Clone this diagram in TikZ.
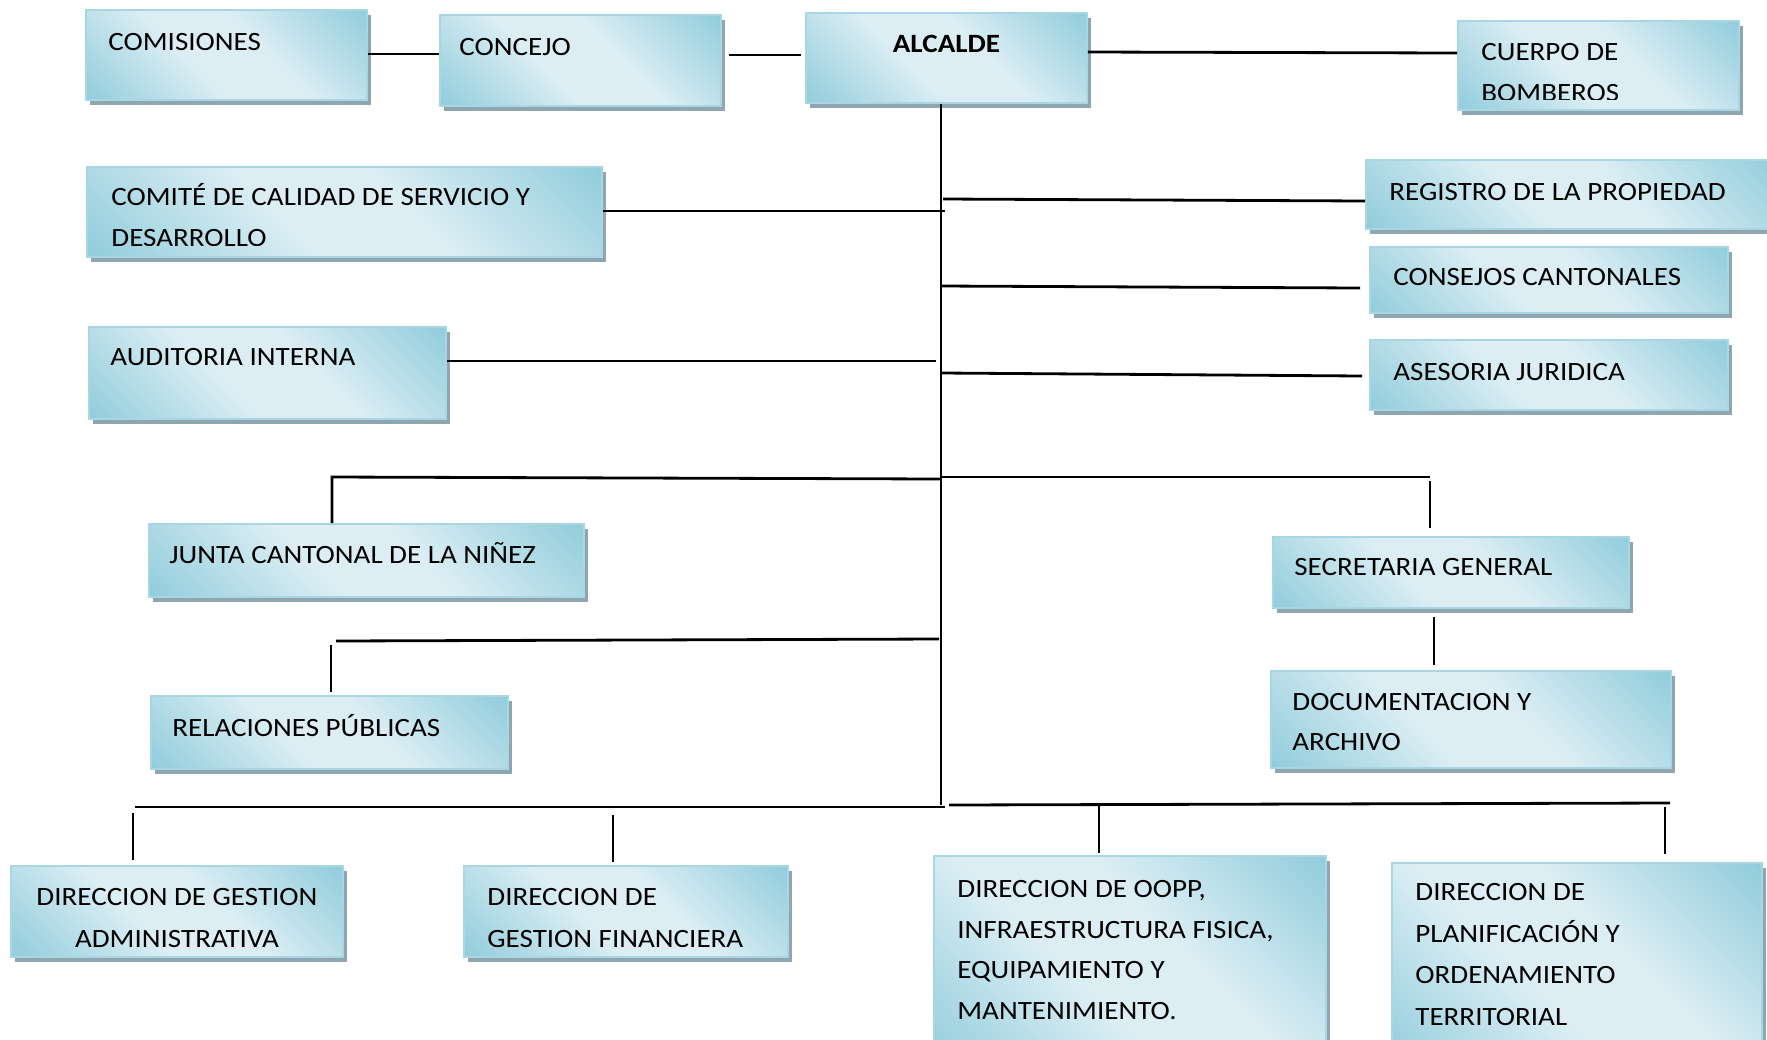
\documentclass[tikz,border=0pt]{standalone}
\usepackage{fontspec}
\setmainfont{Carlito}[FakeStretch=1.1]
\usetikzlibrary{fit,shadows}
\definecolor{bdark}{HTML}{92CDDC}
\definecolor{blight}{HTML}{DCEEF4}
\definecolor{bord}{HTML}{A8D7E3}
\definecolor{shadowc}{HTML}{8FA6B0}
\pgfdeclarehorizontalshading{boxsh}{100bp}{color(0bp)=(bdark); color(15bp)=(bdark); color(42bp)=(blight); color(58bp)=(blight); color(85bp)=(bdark); color(100bp)=(bdark)}
\newcommand\st{\rule{0pt}{12bp}}
\tikzset{
  obox/.style={inner sep=0pt, draw=bord, line width=0.8bp, shade, shading=boxsh, shading angle=45,
    drop shadow={shadow xshift=2bp, shadow yshift=-2.5bp, fill=shadowc, opacity=1}},
  txt/.style={inner sep=0pt, anchor=north west, align=left, font=\fontsize{13.2bp}{21bp}\selectfont},
  conn/.style={line width=1.4bp, black},
}
\begin{document}
\begin{tikzpicture}[x=0.5bp, y=-0.5bp]
\fill[white] (0,0) rectangle (1767,1039);
\useasboundingbox (0,0) rectangle (1767,1039);

% boxes
\node[obox, fit={(86,10)(367,100)}] (comisiones) {};
\node[obox, fit={(440,15)(721,106)}] (concejo) {};
\node[obox, fit={(806,13)(1087,103)}] (alcalde) {};
\node[obox, fit={(1458,21)(1739,110)}] (cuerpo) {};
\node[obox, fit={(87,167)(602,257)}] (comite) {};
\node[obox, fit={(1366,160)(1780,229)}] (registro) {};
\node[obox, fit={(1370,247)(1728,313)}] (consejos) {};
\node[obox, fit={(89,327)(446,419)}] (auditoria) {};
\node[obox, fit={(1370,340)(1728,410)}] (asesoria) {};
\node[obox, fit={(149,524)(584,597)}] (junta) {};
\node[obox, fit={(1273,537)(1629,608)}] (secretaria) {};
\node[obox, fit={(1271,671)(1671,768)}] (documentacion) {};
\node[obox, fit={(151,696)(508,769)}] (relaciones) {};
\node[obox, fit={(11,866)(343,957)}] (admin) {};
\node[obox, fit={(464,866)(788,957)}] (financiera) {};
\node[obox, fit={(934,856)(1326,1070)}] (oopp) {};
\node[obox, fit={(1392,863)(1762,1070)}] (planif) {};

% texts
\node[txt] (tcomisiones) at (108,26) {\st COMISIONES};
\node[txt] (tconcejo) at (459,31) {\st CONCEJO};
\node[txt, anchor=north] (talcalde) at (946.5,28) {\st\bfseries ALCALDE};
\begin{scope}
\clip (1458,21) rectangle (1739,99);
\node[txt, font=\fontsize{13.2bp}{20.3bp}\selectfont] (tcuerpo) at (1481,36) {\st CUERPO DE\\BOMBEROS};
\end{scope}
\begin{scope}
\clip (87,167) rectangle (602,245.5);
\node[txt, font=\fontsize{13.2bp}{20.3bp}\selectfont] (tcomite) at (111,181) {\st COMITÉ DE CALIDAD DE SERVICIO Y\\DESARROLLO};
\end{scope}
\node[txt] (tregistro) at (1389,176) {\st REGISTRO DE LA PROPIEDAD};
\node[txt] (tconsejos) at (1393,261) {\st CONSEJOS CANTONALES};
\node[txt] (tauditoria) at (110,341) {\st AUDITORIA INTERNA};
\node[txt] (tasesoria) at (1393,356) {\st ASESORIA JURIDICA};
\node[txt] (tjunta) at (169,539) {\st JUNTA CANTONAL DE LA NIÑEZ};
\node[txt] (tsecretaria) at (1294,551) {\st SECRETARIA GENERAL};
\node[txt, font=\fontsize{13.2bp}{20bp}\selectfont] (tdocumentacion) at (1292,686) {\st DOCUMENTACION Y\\ARCHIVO};
\node[txt] (trelaciones) at (172,712) {\st RELACIONES PÚBLICAS};
\node[txt, anchor=north, align=center] (tadmin) at (177,881) {\st DIRECCION DE GESTION\\ADMINISTRATIVA};
\node[txt] (tfinanciera) at (487,881) {\st DIRECCION DE\\GESTION FINANCIERA};
\node[txt, font=\fontsize{13.2bp}{20.3bp}\selectfont] (toopp) at (957,873) {\st DIRECCION DE OOPP,\\INFRAESTRUCTURA FISICA,\\EQUIPAMIENTO Y\\MANTENIMIENTO.};
\node[txt, font=\fontsize{13.2bp}{20.8bp}\selectfont] (tplanif) at (1415,876) {\st DIRECCION DE\\PLANIFICACIÓN Y\\ORDENAMIENTO\\TERRITORIAL};

% junction / free-end coordinates
\coordinate (ca1) at (729,55);
\coordinate (ca2) at (801,55);
\coordinate (tb) at (941,805);
\coordinate (jcomite) at (945,211);
\coordinate (jreg) at (943,199);
\coordinate (jcons1) at (941,286);
\coordinate (jcons2) at (1360,288);
\coordinate (jaud) at (936,361);
\coordinate (jases1) at (942,373);
\coordinate (jases2) at (1362,376);
\coordinate (jn1) at (332,477);
\coordinate (jn2) at (941,479);
\coordinate (sc1) at (941,477);
\coordinate (sc2) at (1430,477);
\coordinate (sc3) at (1430,481);
\coordinate (sc4) at (1430,528);
\coordinate (sd1) at (1434,617);
\coordinate (sd2) at (1434,665);
\coordinate (rl1) at (336,641);
\coordinate (rl2) at (939,639);
\coordinate (rl3) at (331,645);
\coordinate (rl4) at (331,692);
\coordinate (bl1) at (135,807);
\coordinate (bl2) at (945,807);
\coordinate (br1) at (949,805);
\coordinate (br2) at (1670,803);
\coordinate (v1a) at (133,813);
\coordinate (v1b) at (133,860);
\coordinate (v2a) at (613,815);
\coordinate (v2b) at (613,862);
\coordinate (v3a) at (1099,805);
\coordinate (v3b) at (1099,853);
\coordinate (v4a) at (1665,807);
\coordinate (v4b) at (1665,854);

% connectors
\draw[conn] (comisiones.east |- 0,54) -- (concejo.west |- 0,54);
\draw[conn] (ca1) -- (ca2);
\draw[conn] (alcalde.east |- 0,52) -- (cuerpo.west |- 0,53);
\draw[conn] (alcalde.south -| tb) -- (tb);
\draw[conn] (comite.east |- jcomite) -- (jcomite);
\draw[conn] (jreg) -- (registro.west |- 0,201);
\draw[conn] (jcons1) -- (jcons2);
\draw[conn] (auditoria.east |- jaud) -- (jaud);
\draw[conn] (jases1) -- (jases2);
\draw[conn] (junta.north -| jn1) -- (jn1) -- (jn2);
\draw[conn] (sc1) -- (sc2);
\draw[conn] (sc3) -- (sc4);
\draw[conn] (sd1) -- (sd2);
\draw[conn] (rl1) -- (rl2);
\draw[conn] (rl3) -- (rl4);
\draw[conn] (bl1) -- (bl2);
\draw[conn] (br1) -- (br2);
\draw[conn] (v1a) -- (v1b);
\draw[conn] (v2a) -- (v2b);
\draw[conn] (v3a) -- (v3b);
\draw[conn] (v4a) -- (v4b);
\end{tikzpicture}
\end{document}
